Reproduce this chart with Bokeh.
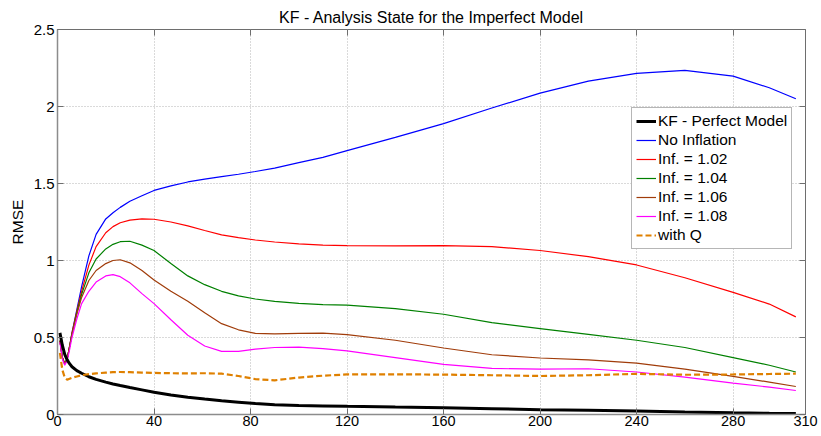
from bokeh.plotting import figure
from bokeh.models import (Range1d, FixedTicker, LinearAxis, Legend, LegendItem,
                          NumeralTickFormatter)
from bokeh.embed import file_html
from bokeh.resources import INLINE

# ---------------- data ----------------
x_steps = [1, 2, 3, 4, 5, 6, 8, 10, 13, 16, 20, 23, 26, 30, 35, 40, 47, 54, 61, 68,
           75, 82, 90, 100, 110, 120, 140, 160, 180, 200, 220, 240, 260, 280, 295, 306]

kf_perfect = [0.53, 0.45, 0.39, 0.355, 0.33, 0.31, 0.285, 0.268, 0.245, 0.228, 0.21, 0.198,
              0.188, 0.175, 0.16, 0.145, 0.127, 0.112, 0.1, 0.089, 0.08, 0.071, 0.064, 0.059,
              0.056, 0.053, 0.048, 0.044, 0.038, 0.031, 0.027, 0.022, 0.016, 0.011, 0.008, 0.006]

no_inflation = [0.48, 0.37, 0.33, 0.36, 0.44, 0.53, 0.68, 0.83, 1.03, 1.17, 1.27, 1.31,
                1.345, 1.385, 1.42, 1.455, 1.485, 1.51, 1.528, 1.545, 1.56, 1.578, 1.6, 1.635,
                1.67, 1.713, 1.8, 1.889, 1.99, 2.087, 2.165, 2.215, 2.234, 2.197, 2.122, 2.05]

inf_102 = [0.48, 0.37, 0.33, 0.36, 0.44, 0.53, 0.67, 0.8, 0.97, 1.09, 1.18, 1.22,
           1.245, 1.262, 1.27, 1.268, 1.25, 1.225, 1.195, 1.166, 1.148, 1.133, 1.12, 1.108,
           1.1, 1.097, 1.095, 1.097, 1.09, 1.065, 1.025, 0.971, 0.888, 0.793, 0.717, 0.634]

inf_104 = [0.48, 0.37, 0.33, 0.36, 0.44, 0.52, 0.66, 0.78, 0.92, 1.01, 1.075, 1.105,
           1.122, 1.125, 1.1, 1.065, 0.98, 0.9, 0.843, 0.8, 0.77, 0.75, 0.735, 0.721,
           0.714, 0.71, 0.688, 0.651, 0.597, 0.558, 0.52, 0.482, 0.435, 0.369, 0.32, 0.276]

inf_106 = [0.48, 0.37, 0.33, 0.36, 0.44, 0.52, 0.65, 0.76, 0.87, 0.935, 0.98, 1.0,
           1.005, 0.985, 0.935, 0.873, 0.8, 0.735, 0.66, 0.59, 0.55, 0.527, 0.524, 0.527,
           0.528, 0.519, 0.482, 0.432, 0.388, 0.367, 0.355, 0.334, 0.295, 0.248, 0.21, 0.182]

inf_108 = [0.47, 0.36, 0.32, 0.35, 0.42, 0.5, 0.62, 0.72, 0.8, 0.86, 0.9, 0.908,
           0.895, 0.855, 0.785, 0.72, 0.615, 0.515, 0.445, 0.41, 0.41, 0.425, 0.435, 0.437,
           0.428, 0.413, 0.369, 0.326, 0.299, 0.294, 0.297, 0.276, 0.243, 0.204, 0.178, 0.156]

with_q = [0.4, 0.29, 0.24, 0.226, 0.232, 0.238, 0.247, 0.255, 0.262, 0.267, 0.272, 0.275,
          0.276, 0.275, 0.272, 0.27, 0.268, 0.267, 0.268, 0.265, 0.25, 0.23, 0.222, 0.24,
          0.252, 0.26, 0.261, 0.259, 0.255, 0.25, 0.255, 0.264, 0.258, 0.26, 0.263, 0.265]

x_ticks = [0, 40, 80, 120, 160, 200, 240, 280, 310]
y_ticks = [0, 0.5, 1, 1.5, 2, 2.5]

labels = ["KF - Perfect Model", "No Inflation", "Inf. = 1.02", "Inf. = 1.04",
          "Inf. = 1.06", "Inf. = 1.08", "with Q"]

FONT = "Liberation Sans"

p = figure(width=821, height=436, output_backend="svg", toolbar_location=None,
           x_range=Range1d(0, 310), y_range=Range1d(0, 2.5),
           min_border_left=57, min_border_right=16, min_border_top=29, min_border_bottom=22,
           title="KF - Analysis State for the Imperfect Model")

p.title.text_font = FONT
p.title.text_font_size = "16px"
p.title.text_font_style = "normal"
p.title.align = "center"
p.title.text_color = "#000000"
p.title.standoff = 8

p.outline_line_color = "#6e6e6e"
p.outline_line_width = 1

# axes
for ax in (p.xaxis[0], p.yaxis[0]):
    ax.major_tick_in = 6
    ax.major_tick_out = 0
    ax.minor_tick_line_color = None
    ax.axis_line_color = "#8c8c8c"
    ax.axis_line_width = 1.5
    ax.major_tick_line_color = "#6e6e6e"
    ax.major_label_text_font = FONT
    ax.major_label_text_color = "#000000"

p.xaxis[0].ticker = FixedTicker(ticks=x_ticks)
p.yaxis[0].ticker = FixedTicker(ticks=y_ticks)
p.yaxis[0].formatter = NumeralTickFormatter(format="0.[0]")
p.xaxis[0].major_label_text_font_size = "14.5px"
p.yaxis[0].major_label_text_font_size = "15px"
p.xaxis[0].major_label_standoff = 1
p.yaxis[0].major_label_standoff = 3
p.yaxis[0].axis_label = "RMSE"
p.yaxis[0].axis_label_text_font = FONT
p.yaxis[0].axis_label_text_font_size = "15.5px"
p.yaxis[0].axis_label_text_font_style = "normal"
p.yaxis[0].axis_label_text_color = "#000000"
p.yaxis[0].axis_label_standoff = 5

# mirrored ticks on top and right (labels not drawn)
for loc, tick in (("right", y_ticks), ("above", x_ticks)):
    ax = LinearAxis(ticker=FixedTicker(ticks=tick))
    ax.major_tick_in = 6
    ax.major_tick_out = 0
    ax.minor_tick_line_color = None
    ax.axis_line_color = None
    ax.major_tick_line_color = "#6e6e6e"
    ax.major_label_text_color = None
    ax.major_label_text_font_size = "1px"
    ax.major_label_standoff = 0
    p.add_layout(ax, loc)

p.xgrid.ticker = FixedTicker(ticks=x_ticks)
p.ygrid.ticker = FixedTicker(ticks=y_ticks)
for g in (p.xgrid[0], p.ygrid[0]):
    g.grid_line_color = "#b4b4b4"
    g.grid_line_dash = "1 2"
    g.grid_line_width = 1

r_blue = p.line(x_steps, no_inflation, line_color="#0000ff", line_width=1.2)
r_red = p.line(x_steps, inf_102, line_color="#ff0000", line_width=1.2)
r_green = p.line(x_steps, inf_104, line_color="#008000", line_width=1.2)
r_brown = p.line(x_steps, inf_106, line_color="#a03c0a", line_width=1.2)
r_mag = p.line(x_steps, inf_108, line_color="#ff00ff", line_width=1.2)
r_black = p.line(x_steps, kf_perfect, line_color="#000000", line_width=3)
r_q = p.line(x_steps, with_q, line_color="#df8000", line_width=2.2, line_dash="6 3")

legend = Legend(items=[
    LegendItem(label=labels[0], renderers=[r_black]),
    LegendItem(label=labels[1], renderers=[r_blue]),
    LegendItem(label=labels[2], renderers=[r_red]),
    LegendItem(label=labels[3], renderers=[r_green]),
    LegendItem(label=labels[4], renderers=[r_brown]),
    LegendItem(label=labels[5], renderers=[r_mag]),
    LegendItem(label=labels[6], renderers=[r_q]),
], location=(574, 165))
legend.label_text_font = FONT
legend.label_text_font_size = "15.5px"
legend.label_text_color = "#000000"
legend.label_height = 16
legend.glyph_height = 16
legend.glyph_width = 20
legend.label_standoff = 2
legend.spacing = 1
legend.padding = 4
legend.margin = 0
legend.border_line_color = "#6e6e6e"
legend.border_line_width = 1
legend.background_fill_color = "#ffffff"
legend.background_fill_alpha = 1
p.add_layout(legend, "center")

open("out.html", "w").write(file_html(p, INLINE))
